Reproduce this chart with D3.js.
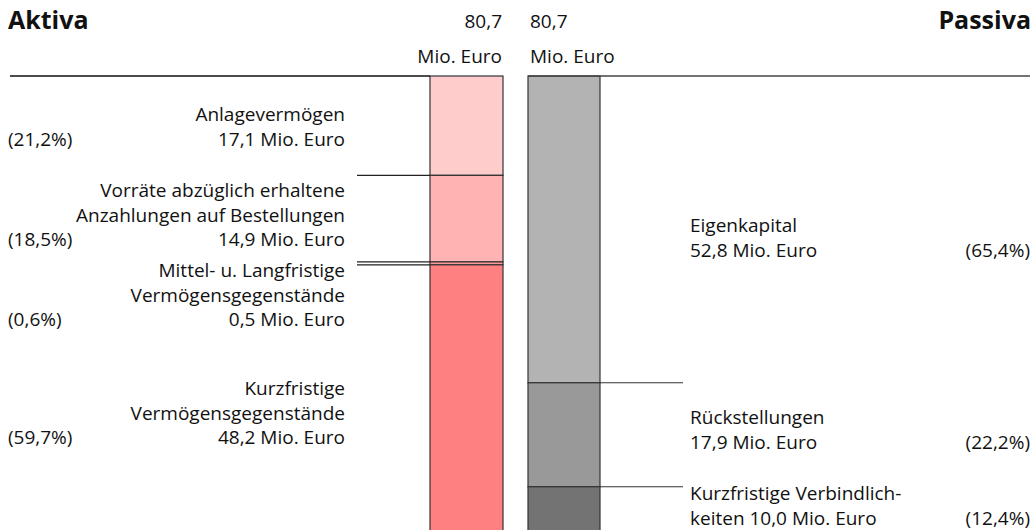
<!DOCTYPE html>
<html lang="de">
<head>
<meta charset="utf-8">
<script src="https://cdn.jsdelivr.net/npm/d3@7"></script>
<style>
  html, body { margin: 0; padding: 0; background: #fff; }
  svg { display: block; font-family: "Open Sans", "Noto Sans", sans-serif; }
</style>
</head>
<body>
<svg id="chart" width="1034" height="530"></svg>
<script>
// Bilanzstruktur: Aktiva / Passiva in Mio. Euro
const total = 80.7;
const totalLabel = "80,7";

const aktivaNames = [
  ["Anlagevermögen"],
  ["Vorräte abzüglich erhaltene", "Anzahlungen auf Bestellungen"],
  ["Mittel- u. Langfristige", "Vermögensgegenstände"],
  ["Kurzfristige", "Vermögensgegenstände"]
];
const aktivaValues = [17.1, 14.9, 0.5, 48.2];
const aktivaShares = ["21,2%", "18,5%", "0,6%", "59,7%"];
const aktivaColors = ["#ffcccc", "#ffb3b3", "#ff9999", "#ff8080"];

const passivaNames = [
  ["Eigenkapital"],
  ["Rückstellungen"],
  ["Kurzfristige Verbindlich-", "keiten"]
];
const passivaValues = [52.8, 17.9, 10.0];
const passivaShares = ["65,4%", "22,2%", "12,4%"];
const passivaColors = ["#b3b3b3", "#999999", "#737373"];

// Baseline of the first text line of each label block
const aktivaLabelY = [121, 197, 277, 395];
const passivaLabelY = [232, 424, 500];

const fmt = v => d3.format(".1f")(v).replace(".", ",");

const svg = d3.select("#chart");
const barTop = 76;
const y = d3.scaleLinear().domain([0, total]).range([barTop, barTop + 5.81 * total]);

const leftBar = { x0: 430, x1: 503 };
const rightBar = { x0: 528, x1: 600 };
const lineH = 24.5;
const fontSize = 19;

function stack(values) {
  let acc = 0;
  return values.map(v => { const s = acc; acc += v; return { start: s, end: acc, value: v }; });
}

const aktiva = stack(aktivaValues);
const passiva = stack(passivaValues);

// Bars
svg.append("g").selectAll("rect").data(aktiva).join("rect")
  .attr("x", leftBar.x0).attr("width", leftBar.x1 - leftBar.x0)
  .attr("y", d => y(d.start)).attr("height", d => y(d.end) - y(d.start))
  .attr("fill", (d, i) => aktivaColors[i])
  .attr("stroke", "#333").attr("stroke-width", 1.2);

svg.append("g").selectAll("rect").data(passiva).join("rect")
  .attr("x", rightBar.x0).attr("width", rightBar.x1 - rightBar.x0)
  .attr("y", d => y(d.start)).attr("height", d => y(d.end) - y(d.start))
  .attr("fill", (d, i) => passivaColors[i])
  .attr("stroke", "#333").attr("stroke-width", 1.2);

// Header rules
svg.append("line").attr("x1", 10).attr("x2", leftBar.x0).attr("y1", barTop).attr("y2", barTop)
  .attr("stroke", "#111").attr("stroke-width", 1.5);
svg.append("line").attr("x1", rightBar.x0).attr("x2", 1030).attr("y1", barTop).attr("y2", barTop)
  .attr("stroke", "#444").attr("stroke-width", 1.5);

// Connector lines at segment boundaries
const aktivaBounds = [aktiva[0].end, aktiva[1].end, aktiva[2].end];
svg.append("g").selectAll("line").data(aktivaBounds).join("line")
  .attr("x1", 357).attr("x2", leftBar.x0)
  .attr("y1", d => y(d)).attr("y2", d => y(d))
  .attr("stroke", "#222").attr("stroke-width", 1.2);

const passivaBounds = [passiva[0].end, passiva[1].end];
svg.append("g").selectAll("line").data(passivaBounds).join("line")
  .attr("x1", rightBar.x1).attr("x2", 683)
  .attr("y1", d => y(d)).attr("y2", d => y(d))
  .attr("stroke", "#333").attr("stroke-width", 1.2);

// Headings
svg.append("text").attr("x", 8).attr("y", 29).attr("font-size", 25).attr("font-weight", 700)
  .attr("fill", "#111").text("Aktiva");
svg.append("text").attr("x", 1031).attr("y", 29).attr("font-size", 25).attr("font-weight", 700)
  .attr("text-anchor", "end").attr("fill", "#111").text("Passiva");

const head = svg.append("g").attr("font-size", fontSize).attr("fill", "#111");
head.append("text").attr("x", 502).attr("y", 28).attr("text-anchor", "end").text(totalLabel);
head.append("text").attr("x", 502).attr("y", 63).attr("text-anchor", "end").text("Mio. Euro");
head.append("text").attr("x", 530).attr("y", 28).text(totalLabel);
head.append("text").attr("x", 530).attr("y", 63).text("Mio. Euro");

// Aktiva labels (right-aligned) with share on the left
aktiva.forEach((d, i) => {
  const lines = aktivaNames[i].concat([fmt(d.value) + " Mio. Euro"]);
  const g = svg.append("g").attr("font-size", fontSize).attr("fill", "#111");
  lines.forEach((t, j) => {
    g.append("text").attr("x", 345).attr("y", aktivaLabelY[i] + j * lineH)
      .attr("text-anchor", "end").text(t);
  });
  g.append("text").attr("x", 8).attr("y", aktivaLabelY[i] + (lines.length - 1) * lineH)
    .text("(" + aktivaShares[i] + ")");
});

// Passiva labels (left-aligned) with share on the right
passiva.forEach((d, i) => {
  const names = passivaNames[i].slice();
  const valueText = fmt(d.value) + " Mio. Euro";
  let lines;
  if (names.length > 1) {
    names[names.length - 1] = names[names.length - 1] + " " + valueText;
    lines = names;
  } else {
    lines = names.concat([valueText]);
  }
  const g = svg.append("g").attr("font-size", fontSize).attr("fill", "#111");
  lines.forEach((t, j) => {
    g.append("text").attr("x", 690).attr("y", passivaLabelY[i] + j * lineH).text(t);
  });
  g.append("text").attr("x", 1030).attr("y", passivaLabelY[i] + (lines.length - 1) * lineH)
    .attr("text-anchor", "end").text("(" + passivaShares[i] + ")");
});
</script>
</body>
</html>
